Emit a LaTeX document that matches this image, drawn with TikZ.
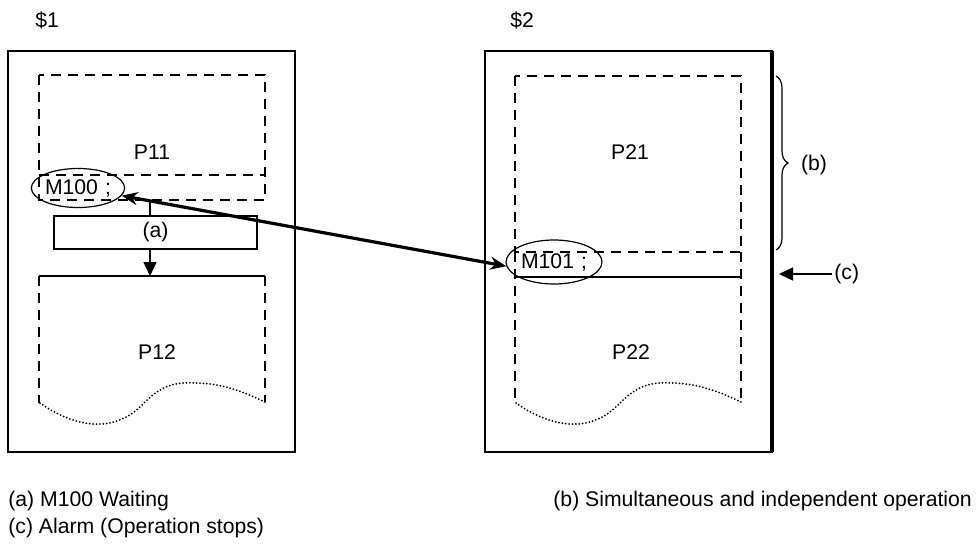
\documentclass[tikz,border=0pt]{standalone}
\usepackage{fontspec}
\setmainfont{Liberation Sans}
\usepackage{tikz}
\usetikzlibrary{arrows.meta, positioning, shapes.geometric, decorations.pathreplacing}

\begin{document}
\begin{tikzpicture}[
    x=0.5pt, y=-0.5pt,
    font=\fontsize{10.6}{12.7}\selectfont,
    frame/.style={draw, line width=1.4pt},
    prog/.style={draw, line width=1.2pt, dash pattern=on 5pt off 3.5pt},
    wave/.style={draw, line width=1pt, line cap=round, dash pattern=on 0pt off 1.7pt},
    mcode/.style={ellipse, draw, line width=0.6pt, inner sep=0pt},
    waitbox/.style={rectangle, draw, line width=0.75pt, minimum width=101.5pt, minimum height=15.5pt},
    note/.style={anchor=base west, inner sep=0pt},
    arrow/.style={-{Triangle[length=7pt, width=6.5pt]}, line width=0.75pt},
    link/.style={{Stealth[length=8pt, width=6.5pt]}-{Stealth[length=8pt, width=6.5pt]}, line width=1.6pt},
]
\useasboundingbox (0,0) rectangle (978,545);

% Channels
\node[note] (sys1) at (35,28) {\$1};
\node[note] (sys2) at (510,28) {\$2};
\draw[frame] (8,51) rectangle (295,452);
\draw[frame] (485,51) rectangle (772,452);
\draw[line width=2pt] (772,51) -- (772,452);

% Programs of $1
\draw[prog] (39,75) rectangle (265,200);
\draw[prog] (39,175) -- (265,175);
\draw[prog] (39,276) -- (39,403);
\draw[prog] (265,276) -- (265,402);
\draw[line width=1.2pt] (39,276) -- (265,276);
\draw[wave] (40,403) .. controls (70,424) and (112,438) .. (145,402)
    .. controls (163,384) and (178,382) .. (195,383)
    .. controls (225,383) and (250,395) .. (265,402);

% Programs of $2
\draw[prog] (515,76) rectangle (741,252);
\draw[prog] (515,252) -- (515,403);
\draw[prog] (741,252) -- (741,402);
\draw[line width=1.2pt] (515,277) -- (741,277);
\draw[wave] (516,403) .. controls (546,424) and (588,438) .. (621,402)
    .. controls (639,384) and (654,382) .. (671,383)
    .. controls (701,383) and (726,395) .. (741,402);

% Nodes
\node (p11) at (152,152) {P11};
\node (p12) at (157,352) {P12};
\node (p21) at (630,152) {P21};
\node (p22) at (631,352) {P22};
\node[mcode, minimum width=46.5pt, minimum height=19.5pt] (m100) at (78,188) {M100\,\,;};
\node[mcode, minimum width=48pt, minimum height=22pt] (m101) at (554,262) {M101\,\,;};
\node[waitbox] (waita) at (155.5,232.5) {(a)};
\coordinate (p11out) at (150,200);
\coordinate (p12in) at (150,276);

% Arrows
\draw[line width=0.75pt] (p11out) -- (p11out |- waita.north);
\draw[arrow] (waita.south -| p12in) -- (p12in);
\draw[link] (m100.-10) -- (m101.185);

% Brace and alarm
\coordinate (btop) at (776,76);
\coordinate (bbot) at (776,250);
\draw[decorate, decoration={brace, amplitude=6pt}, line width=0.6pt] (btop) -- (bbot);
\node (labb) at (814,165) {(b)};
\node[inner sep=1pt, anchor=west] (labc) at (832,274) {(c)};
\coordinate (alarm) at (779,274);
\draw[arrow] (labc.west) -- (alarm);

% Notes
\node[note] (nota) at (8,506) {(a) M100 Waiting};
\node[note] (notb) at (553,506) {(b) Simultaneous and independent operation};
\node[note] (notc) at (8,533) {(c) Alarm (Operation stops)};

\end{tikzpicture}
\end{document}
